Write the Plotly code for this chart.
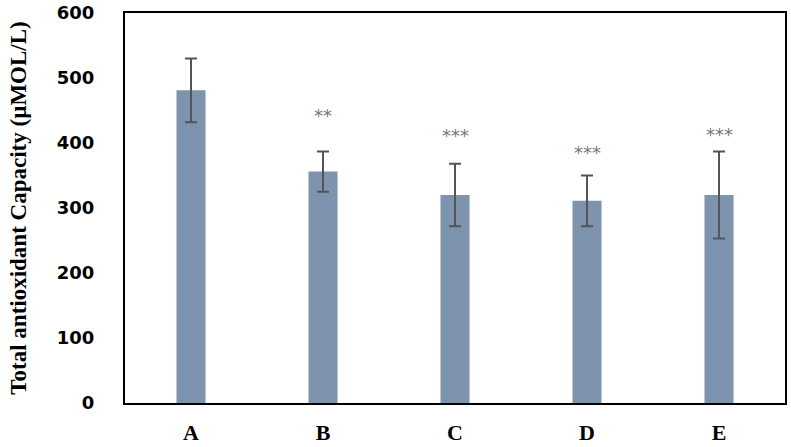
import plotly.graph_objects as go

groups = ['A', 'B', 'C', 'D', 'E']
means = [481, 356, 320, 311, 320]
errors = [49, 31, 48, 39, 67]
stars = ['', '**', '***', '***', '***']
star_y = [0, 443, 412, 386, 413]

fig = go.Figure()
fig.add_trace(go.Bar(
    x=groups, y=means,
    width=0.22,
    marker=dict(color='#7e93ae', line=dict(width=0)),
    error_y=dict(type='data', array=errors, visible=True,
                 color='#555555', thickness=2, width=6),
))

for g, s, yy in zip(groups, stars, star_y):
    if s:
        fig.add_annotation(x=g, y=yy, text=s, showarrow=False,
                           font=dict(family='DejaVu Sans', size=18, color='#777777'))

fig.update_layout(
    width=791, height=447,
    margin=dict(l=125, r=6, t=13, b=44),
    plot_bgcolor='white', paper_bgcolor='white',
    showlegend=False,
)
fig.update_xaxes(
    showline=True, linecolor='black', linewidth=2, mirror=True,
    showgrid=False, ticks='', automargin=False,
    tickfont=dict(family='Liberation Serif', size=22, color='black', weight='bold'),
    ticklabelstandoff=9,
)
fig.update_yaxes(
    range=[0, 600], dtick=100,
    showline=True, linecolor='black', linewidth=2, mirror=True,
    showgrid=False, zeroline=False, ticks='', automargin=False,
    tickfont=dict(family='DejaVu Sans', size=18, color='black', weight='bold'),
    ticklabelstandoff=25,
    title=dict(text='Total antioxidant Capacity (µMOL/L)',
               font=dict(family='Liberation Serif', size=23, color='black', weight='bold'),
               standoff=24),
)

fig.write_html('out.html', config={'displayModeBar': False},
               post_script="document.body.style.margin='0';")
